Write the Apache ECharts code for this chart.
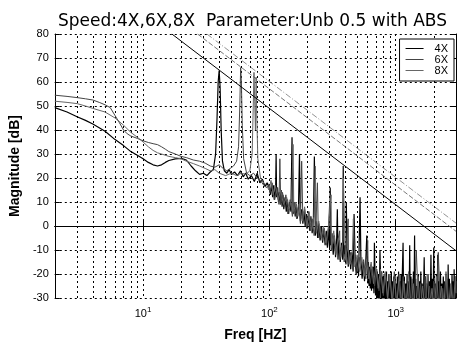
<!DOCTYPE html>
<html><head><meta charset="utf-8">
<script src="https://cdn.jsdelivr.net/npm/echarts@6/dist/echarts.min.js"></script>
<style>html,body{margin:0;padding:0;background:#fff}#c{width:459px;height:347px}</style>
</head><body><div id="c"></div>
<script>
const seriesNames = ['4X', '6X', '8X'];
const chartTitle = 'Speed:4X,6X,8X  Parameter:Unb 0.5 with ABS';

const spectrum4X = [
[2,49.3],[2.5,47.5],[3,45.5],[3.5,44],[4,42.5],[5,39.5],[6,36],[7,33.5],[8,31],[9,29.5],[10,28],[11,26.5],[12,25.5],[13,25],[14,25.5],[15,26.5],[16,27.3],[18,28],[20,28.2],[22,27.5],[24,25],[26,23],[28,21.5],[30,22],[32,21],[34,22.5],[36,23.5],[37.5,30],[38.5,45],[39.3,60],[40,64.8],[40.7,58],[41.5,40],[42.5,27],[44,23],[46,22],[48,23.5],[50,21.5],[53,22.5],[56,21],[59,23],[62,20.5],[65,22],[68,19.5],[72,21],[76,18.5],[80,22],[84,18],[88,19.5],[92,16.5],[96,18],
[100,16],[102,13],[104,18],[106,12],[108,17],[110,11],[112,15],[113,30],[114,12],[116,16],[118,10],[120,14],[122,9],[124,15],[126,8],[128,13],[130,7],[133,12],[136,6],[139,11],[142,5],[145,10],[148,6],[151,37],[154,5],[157,10],[160,4],[163,9],[166,3],[170,8],[173,30],[176,2],[180,7],[184,1],[188,6],[192,0],[196,5],[200,-1],[204,6],[208,-2],[213,4],[218,-3],[223,3],[227,29],[231,-4],[236,2],[241,-5],[246,1],[252,-6],[258,0],[264,-7],[270,-1],[276,-8],[282,-2],[288,-9],[294,-1],[300,-10],[303,16],[306,-8],[313,-3],[320,-12],[327,-4],[334,-13],[341,-5],[345,7],[349,-14],[356,-6],[364,-15],[372,-7],[380,-14],[384,25],[388,-13],[396,-8],[404,-16],[406,10],[412,-9],[421,-17],[430,-10],[440,-18],[450,-11],[460,-19],[468,5],[476,-12],[486,-20],[497,-13],[508,-21],[522,12],[530,-14],[542,-22],[554,-15],[566,-23],[578,-16],[590,-4],
[602,-24],[608,-15],[615,-25],[622,-17],[629,-26],[636,-16],[643,-27],[650,-18],[657,-26],[664,-17],[672,-28],[678,-7],[685,-19],[692,-29],[700,-18],[708,-30],[716,-19],[724,-31],[732,-20],[741,-32],[750,-10],[758,-21],[766,-33],[775,-19],[783,-34],[792,-21],[800,-35],[809,-20],[818,-35],[827,-22],[836,-35],[845,-19],[855,-35],[864,-23],[874,-35],[883,-20],[893,-35],[903,-22],[913,-35],[923,-19],[933,-35],[944,-23],[954,-35],[965,-21],[975,-35],[986,-20],[997,-35],[1008,-24],[1019,-35],[1030,-21],[1042,-35],[1053,-19],[1065,-35],[1077,-23],[1089,-35],[1101,-20],[1113,-35],[1125,-22],[1143,-7],[1156,-35],[1170,-21],[1185,-35],[1200,-24],[1215,-35],[1230,-20],[1245,-35],[1260,-23],[1275,-35],[1290,-8],[1305,-35],[1320,-21],[1335,-35],[1350,-24],[1365,-35],[1380,-19],[1395,-35],[1410,-4],[1425,-35],[1440,-22],[1457,-35],[1475,-25],[1492,-35],[1510,-20],[1527,-35],[1545,-23],[1562,-35],[1580,-19],[1600,-35],[1620,-24],[1650,-35],[1680,-13],[1700,-35],[1720,-21],[1740,-35],[1760,-24],[1780,-35],[1800,-20],[1825,-35],[1850,-23],[1875,-35],[1900,-12],[1925,-35],[1950,-22],[1975,-35],[2000,-9],[2025,-35],[2050,-24],[2075,-35],[2100,-20],[2125,-35],[2150,-12],[2175,-35],[2200,-23],[2230,-35],[2260,-19],[2290,-35],[2320,-24],[2350,-35],[2380,-21],[2410,-35],[2440,-23],[2470,-35],[2500,-20],[2530,-35],[2560,-24],[2580,-35],[2600,-16],[2630,-35],[2660,-22],[2690,-35],[2720,-25],[2755,-35],[2790,-20],[2820,-35],[2850,-23],[2875,-35],[2900,-18],[2930,-35],[2960,-21],[3000,-35]
];

const spectrum6X = [
[2,54.5],[2.5,54],[3,53.5],[3.5,53],[4,52.5],[4.5,51.5],[5,50.5],[5.5,49.3],[6,46],[6.5,43],[7,40],[7.5,38.4],[8,37.5],[9,36.5],[10,35.5],[11,34.8],[12,34.3],[13,33.9],[14,33],[15,32],[16,31],[18,30],[20,29],[22,28.5],[25,27.5],[28,27],[31,26.2],[34,25],[37,24.5],[40,25.5],[43,24],[46,23],[49,24],[52,25],[55,27],[57,33],[58.3,50],[59.2,66],[60,60],[61,42],[62.5,28],[66,22],[70,21],[75,22],[80,20],[85,19],[90,17],[95,16],
[98,17],[101,14],[105,18],[109,11],[115,16],[119,9],[121,28],[123,9],[127,14],[131,8],[135,13],[140,5],[146,11],[152,4],[158,10],[164,3],[170,9],[176,1],[180,27],[184,2],[190,7],[197,-1],[204,5],[211,-2],[218,3],[226,-4],[234,2],[240,18],[244,-5],[253,0],[262,-6],[272,-1],[282,-8],[292,-3],[300,10],[310,-10],[322,-4],[335,-12],[348,-6],[360,-2],[362,-14],[376,-8],[391,-15],[406,-9],[420,3],[423,-16],[440,-11],[458,-18],[476,-12],[495,-19],[514,-13],[535,-20],[557,-14],[580,-22],[600,-6],[604,-16],[628,-24],[654,-17],[680,-25],[708,-18],[737,-27],[767,-19],[798,-29],[830,-20],[864,-31],[900,-21],[937,-33],[975,-19],[1015,-34],[1056,-23],[1100,-34],[1145,-21],[1192,-35],[1240,-24],[1290,-35],[1343,-22],[1398,-35],[1455,-10],[1515,-35],[1577,-24],[1640,-35],[1708,-21],[1778,-35],[1850,-25],[1926,-35],[2005,-23],[2087,-35],[2172,-11],[2262,-35],[2354,-26],[2450,-35],[2550,-22],[2655,-35],[2765,-24],[2878,-35],[3000,-23]
];

const spectrum8X = [
[2,52],[2.5,51.5],[3,51],[3.5,50],[4,49],[5,47.5],[6,45],[7,42],[8,39],[9,37],[10,35],[11,33],[12,31.5],[13,30.5],[14,30],[16,29],[18,28.5],[20,28],[22,27],[25,26],[28,25],[31,24],[34,23],[37,23.5],[40,22],[45,21],[50,22],[55,21],[60,22],[65,21.5],[70,23],[73,30],[74.5,50],[75.5,64],[76.5,52],[77.5,40],[78.5,62],[79.5,45],[81,28],[85,20],[90,18],[95,17],
[99,15],[103,19],[107,13],[111,17],[117,11],[123,15],[129,9],[137,12],[143,7],[150,11],[154,34],[156,6],[162,10],[168,4],[174,8],[182,2],[190,8],[198,0],[206,6],[216,-2],[225,4],[231,25],[235,-3],[246,2],[257,-5],[268,0],[280,-7],[292,-1],[308,13],[310,-9],[323,-2],[337,-11],[352,-5],[367,-13],[383,-6],[385,20],[400,-14],[417,-8],[435,-16],[454,-10],[462,3],[474,-17],[495,-12],[516,-19],[539,-13],[562,-21],[587,-14],[612,-22],[639,-15],[667,-24],[696,-17],[726,-26],[758,-18],[791,-28],[825,-19],[861,-30],[899,-20],[938,-32],[979,-22],[1021,-33],[1066,-20],[1112,-34],[1160,-23],[1211,-35],[1264,-19],[1319,-35],[1376,-24],[1436,-35],[1499,-21],[1564,-35],[1632,-25],[1703,-35],[1777,-20],[1855,-35],[1935,-26],[2020,-35],[2108,-21],[2200,-35],[2296,-25],[2396,-35],[2500,-19],[2609,-35],[2723,-24],[2842,-35],[2966,-21],[3000,-28]
];

// straight reference (slope) lines: [freq, dB]
const limit4X = [[16.9, 80], [3000, -10.3]];
const limit6X = [[27, 80], [3000, -2.2]];
const limit8X = [[32, 80], [3000, 1.2]];

const minorGridFreqs = [3,4,5,6,7,8,9,20,30,40,50,60,70,80,90,200,300,400,500,600,700,800,900,2000];
const xMin = 2, xMax = 3000;
const yMin = -30, yMax = 80, yStep = 10;

const FONT = 'Liberation Sans, Arial, Helvetica, sans-serif';
const spectrumStyles = {
  '4X': { color: '#000', width: 1.2, type: 'solid' },
  '6X': { color: '#444', width: 1, type: 'solid' },
  '8X': { color: '#666', width: 1, type: 'solid' }
};
const slopeStyles = {
  '4X': { color: '#000', width: 1, type: 'solid' },
  '6X': { color: '#555', width: 0.8, type: [5, 2] },
  '8X': { color: '#777', width: 0.8, type: [6, 2, 1, 2] }
};
const spectra = { '4X': spectrum4X, '6X': spectrum6X, '8X': spectrum8X };
const limits = { '4X': limit4X, '6X': limit6X, '8X': limit8X };

const dotted = { color: '#000', width: 1, type: [2, 3] };

function xLabel(v) {
  const e = Math.log10(v);
  if (Math.abs(e - Math.round(e)) > 1e-6) return '';
  return '{b|10}{s|' + Math.round(e) + '}';
}

const series = [];
seriesNames.forEach(n => {
  series.push({
    name: n, type: 'line', data: spectra[n], showSymbol: false, symbol: 'none',
    lineStyle: spectrumStyles[n], itemStyle: { color: spectrumStyles[n].color }, z: 3, clip: true
  });
});
seriesNames.forEach(n => {
  series.push({
    name: n + ' slope', type: 'line', data: limits[n], showSymbol: false, symbol: 'none',
    lineStyle: slopeStyles[n], itemStyle: { color: slopeStyles[n].color }, z: 3, clip: true
  });
});
series.push({
  name: 'grid', type: 'line', data: [], silent: true,
  markLine: { silent: true, symbol: 'none', label: { show: false }, z: 1,
    lineStyle: dotted, data: minorGridFreqs.map(f => ({ xAxis: f })) }
});

const chart = echarts.init(document.getElementById('c'), null, { renderer: 'canvas' });
chart.setOption({
  animation: false,
  backgroundColor: '#fff',
  textStyle: { fontFamily: FONT },
  title: { text: chartTitle, left: 53, top: 8,
    textStyle: { fontSize: 17, fontWeight: 'normal', color: '#000', fontFamily: 'DejaVu Sans, sans-serif' } },
  grid: { left: 49, right: 3, top: 34, bottom: 41, containLabel: false },
  legend: {
    data: seriesNames, orient: 'vertical', right: 5, top: 39,
    icon: 'rect', itemWidth: 18, itemHeight: 1, itemGap: 0, padding: [4, 6, 5, 6],
    borderColor: '#000', borderWidth: 1, backgroundColor: '#fff', borderRadius: 0,
    textStyle: { fontSize: 11, lineHeight: 10, color: '#000', fontFamily: FONT, padding: [0, 0, 0, 6] }
  },
  xAxis: [{
    type: 'log', logBase: 10, min: xMin, max: xMax, position: 'bottom',
    name: 'Freq [HZ]', nameLocation: 'middle', nameGap: 30,
    nameTextStyle: { fontSize: 14, fontWeight: 'bold', color: '#000', fontFamily: FONT },
    axisLine: { show: true, lineStyle: { color: '#000', width: 1 } },
    axisTick: { show: true, inside: true, length: 5, lineStyle: { color: '#000' } },
    axisLabel: { formatter: xLabel, color: '#000', margin: 8,
      rich: { b: { fontSize: 11, fontFamily: FONT, color: '#000' },
              s: { fontSize: 8, fontFamily: FONT, color: '#000', padding: [0, 0, 7, 0] } } },
    splitLine: { show: true, lineStyle: dotted }
  }, {
    type: 'log', logBase: 10, min: xMin, max: xMax, position: 'top',
    axisLine: { show: true, lineStyle: { color: '#000', width: 1 } },
    axisTick: { show: true, inside: true, length: 5, lineStyle: { color: '#000' } },
    axisLabel: { show: false }, splitLine: { show: false }
  }],
  yAxis: [{
    type: 'value', min: yMin, max: yMax, interval: yStep, position: 'left',
    name: 'Magnitude [dB]', nameLocation: 'middle', nameGap: 29,
    nameTextStyle: { fontSize: 14, fontWeight: 'bold', color: '#000', fontFamily: FONT },
    axisLine: { show: true, lineStyle: { color: '#000', width: 1 } },
    axisTick: { show: true, inside: true, length: 5, lineStyle: { color: '#000' } },
    axisLabel: { color: '#000', fontSize: 11, margin: 6, fontFamily: FONT },
    splitLine: { show: true, lineStyle: dotted }
  }, {
    type: 'value', min: yMin, max: yMax, interval: yStep, position: 'right',
    axisLine: { show: true, lineStyle: { color: '#000', width: 1 } },
    axisTick: { show: true, inside: true, length: 5, lineStyle: { color: '#000' } },
    axisLabel: { show: false }, splitLine: { show: false }
  }],
  series: series
});
</script></body></html>
